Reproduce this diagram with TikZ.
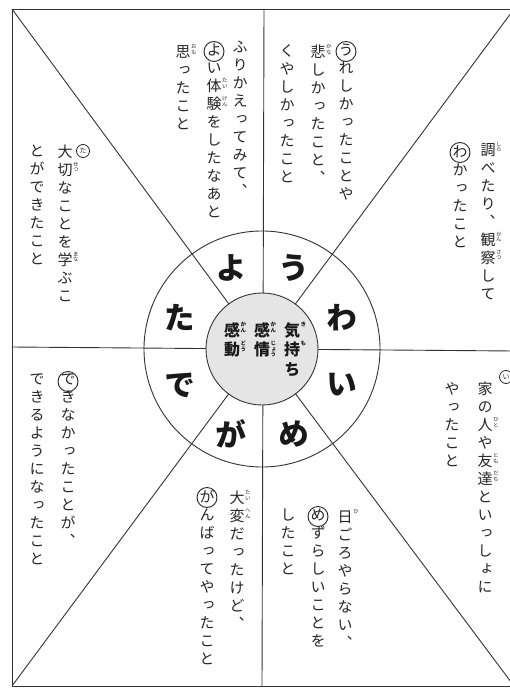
\documentclass[tikz,border=0pt]{standalone}
\usepackage{fontspec}
\newfontfamily\jp[RawFeature=+vert]{Noto Sans CJK JP}
\ExplSyntaxOn
\NewDocumentCommand \vcol { O{1.2} m }
  {
    \vbox
      {
        \baselineskip = #1 em
        \lineskiplimit = -100pt
        \tl_map_inline:nn {#2} { \hbox to 1em { \hss ##1 \hss } }
      }
  }
\NewDocumentCommand \rubycol { m }
  {
    \vtop
      {
        \baselineskip = 1em
        \lineskiplimit = -100pt
        \tl_map_inline:nn {#1} { \hbox { ##1 } }
      }
  }
\ExplSyntaxOff
\newcommand\R[2]{#1\rlap{\kern0.5pt\raisebox{0.62em}{\fontsize{5.5pt}{5.5pt}\selectfont\rubycol{#2}}}}
\tikzset{
  frame/.style={line width=0.9pt, draw=black!80},
  desc/.style={anchor=north, inner sep=0pt, text=black!85, font={\jp\fontsize{15pt}{15pt}\selectfont}},
  ringl/.style={inner sep=0pt, text=black!90, font={\jp\bfseries\fontsize{31pt}{31pt}\selectfont}},
  cen/.style={anchor=north, inner sep=0pt, text=black!90, font={\jp\bfseries\fontsize{16pt}{16pt}\selectfont}},
  circ/.style={circle, draw=black!85, line width=0.9pt, minimum size=20pt, inner sep=0pt},
  smallcirc/.style={circle, draw=black!85, line width=0.8pt, minimum size=13pt, inner sep=0pt, text=black!85, font={\jp\fontsize{7pt}{7pt}\selectfont}},
}
\begin{document}
\begin{tikzpicture}[x=1pt, y=-1pt]
\clip (0,0) rectangle (510,688);
\fill[white] (0,0) rectangle (510,688);
% frame and radial lines
\coordinate (c) at (262,349);
\coordinate (TL) at (12,9);
\coordinate (TR) at (514,9);
\coordinate (BL) at (12,686);
\coordinate (BR) at (514,686);
\coordinate (T) at (264,9);
\coordinate (B) at (262,686);
\coordinate (L) at (12,347);
\coordinate (R) at (514,351);
\draw[frame] (TL) rectangle (BR);
\draw[frame] (TL) -- (c) -- (BR);
\draw[frame] (TR) -- (c) -- (BL);
\draw[frame] (T) -- (B);
\draw[frame] (L) -- (R);
\draw[frame] (c) circle (118pt);
\node[circle, draw=black!80, line width=0.9pt, fill=black!10, minimum size=112pt] (core) at (c) {};
% ring letters
\node[ringl] (ru) at (294,268) {う};
\node[ringl] (rw) at (342,318) {わ};
\node[ringl] (ri) at (342,385) {い};
\node[ringl] (rm) at (294,434) {め};
\node[ringl] (rg) at (231,434) {が};
\node[ringl] (rd) at (180,385) {で};
\node[ringl] (rt) at (180,318) {た};
\node[ringl] (ry) at (231,268) {よ};
% centre
\node[cen] (k1) at (292,322) {\vcol{{\R{気}{き}}{\R{持}{も}}ち}};
\node[cen] (k2) at (262,322) {\vcol{{\R{感}{かん}}{\R{情}{じょう}}}};
\node[cen] (k3) at (232,322) {\vcol{{\R{感}{かん}}{\R{動}{どう}}}};
% U sector
\node[desc] (u1) at (346,44) {\vcol{うれしかったことや}};
\node[desc] (u2) at (318,44) {\vcol{{\R{悲}{かな}}しかったこと、}};
\node[desc] (u3) at (287,44) {\vcol{くやしかったこと}};
\node[circ] at ([yshift=-7.5pt]u1.north) {};
% Y sector
\node[desc] (y1) at (240,41) {\vcol{ふりかえってみて、}};
\node[desc] (y2) at (214,44) {\vcol{よい{\R{体}{たい}}{\R{験}{けん}}をしたなあと}};
\node[desc] (y3) at (183,44) {\vcol{{\R{思}{おも}}ったこと}};
\node[circ] at ([yshift=-7.5pt]y2.north) {};
% W sector
\node[desc] (w1) at (488,142) {\vcol{{\R{調}{しら}}べたり、{\R{観}{かん}}{\R{察}{さつ}}して}};
\node[desc] (w2) at (460,145) {\vcol{わかったこと}};
\node[circ] at ([yshift=-7.5pt]w2.north) {};
% I sector
\node[desc] (i1) at (485,382) {\vcol{家の{\R{人}{ひと}}や{\R{友}{とも}}{\R{達}{だち}}といっしょに}};
\node[desc] (i2) at (452,382) {\vcol{やったこと}};
\node[smallcirc] at (506,377) {い};
% M sector
\node[desc] (m1) at (345,509) {\vcol{{\R{日}{ひ}}ごろやらない、}};
\node[desc] (m2) at (318,509) {\vcol{めずらしいことを}};
\node[desc] (m3) at (288,509) {\vcol{したこと}};
\node[circ] at ([yshift=-7.5pt]m2.north) {};
% G sector
\node[desc] (g1) at (237,490) {\vcol{{\R{大}{たい}}{\R{変}{へん}}だったけど、}};
\node[desc] (g2) at (207,490) {\vcol{がんばってやったこと}};
\node[circ] at ([yshift=-7.5pt]g2.north) {};
% D sector
\node[desc] (d1) at (68,374) {\vcol{できなかったことが、}};
\node[desc] (d2) at (37,374) {\vcol{できるようになったこと}};
\node[circ] at ([yshift=-7.5pt]d1.north) {};
% T sector
\node[desc] (t1) at (65,145) {\vcol{大{\R{切}{せつ}}なことを{\R{学}{まな}}ぶこ}};
\node[desc] (t2) at (37,145) {\vcol{とができたこと}};
\node[smallcirc] at (83,151) {た};
\end{tikzpicture}
\end{document}
